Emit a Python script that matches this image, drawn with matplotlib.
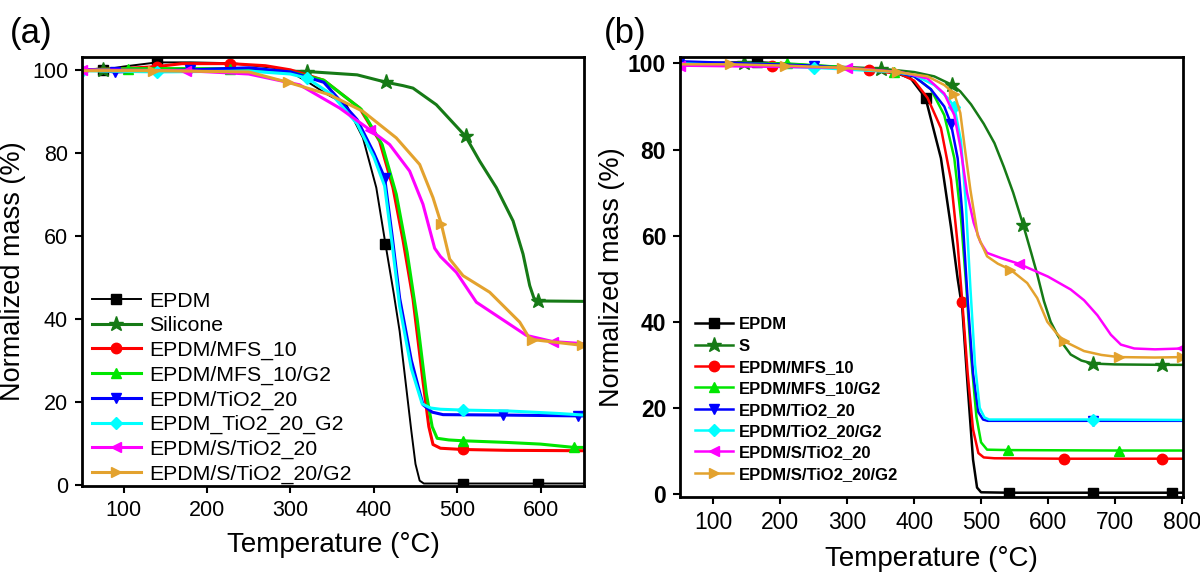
import numpy as np
import matplotlib.pyplot as plt

plt.rcParams["font.family"] = ["Liberation Sans", "DejaVu Sans"]

COLORS = ["black", "#167a16", "#ff0000", "#00e600", "#0000ff", "#00ffff", "#ff00ff", "#e3a22e"]
MARKERS = ["s", "*", "o", "^", "v", "D", "<", ">"]

# ---- panel (a) ----
labels_a = ["EPDM", "Silicone", "EPDM/MFS_10", "EPDM/MFS_10/G2", "EPDM/TiO2_20",
            "EPDM_TiO2_20_G2", "EPDM/S/TiO2_20", "EPDM/S/TiO2_20/G2"]

a_epdm_T = [50, 75, 100, 140, 180, 230, 280, 300, 323, 345, 367, 387, 403, 414, 424, 431, 438, 445, 450, 455, 460, 507, 597, 652]
a_epdm_m = [100, 100, 100.8, 101.8, 101.8, 101.6, 100.5, 99.5, 96.8, 94, 91.6, 83.6, 71.6, 58, 46, 37, 25, 13, 5, 1, 0.3, 0.3, 0.3, 0.3]
a_epdm_mk = [75, 140, 414, 507, 597]

a_sil_T = [50, 75, 105, 225, 320, 380, 415, 435, 447, 475, 510, 527, 547, 567, 579, 587, 592, 597, 652]
a_sil_m = [100, 100, 100.3, 100, 99.6, 98.8, 97, 96.2, 95.6, 91.6, 84, 78, 71.6, 63.6, 55.6, 48, 45, 44.3, 44.2]
a_sil_mk = [75, 320, 415, 510, 597]

a_mfs_T = [50, 100, 140, 170, 228, 270, 300, 340, 383, 407, 423, 435, 447, 459, 466, 471, 480, 507, 560, 652]
a_mfs_m = [100, 100.3, 100.8, 101.5, 101.5, 101, 100, 97.5, 90.8, 82.8, 71.6, 59, 44.8, 24.9, 14, 9.7, 8.8, 8.5, 8.3, 8.2]
a_mfs_mk = [140, 228, 507]

a_mfsg_T = [50, 105, 228, 300, 340, 385, 410, 427, 440, 452, 463, 470, 476, 490, 507, 560, 600, 640, 652]
a_mfsg_m = [100, 100.3, 100.3, 99.5, 97.5, 90.5, 82, 70, 56, 40, 22, 14, 11.2, 10.8, 10.6, 10.2, 9.8, 9, 9]
a_mfsg_mk = [105, 228, 507, 640]

a_ti_T = [50, 90, 180, 250, 300, 340, 380, 400, 413, 422, 431, 445, 459, 470, 483, 555, 645, 652]
a_ti_m = [100.2, 99.5, 100, 100.5, 99.5, 97, 88, 80, 74, 60, 45, 30, 19.3, 17.5, 16.9, 16.8, 16.6, 16.6]
a_ti_mk = [90, 180, 413, 555, 645]

a_tig_T = [50, 140, 250, 300, 320, 350, 380, 400, 413, 422, 431, 445, 458, 468, 480, 507, 560, 620, 652]
a_tig_m = [99.8, 99.5, 99.7, 99, 98, 94, 87, 79, 72, 58, 43, 28, 19.5, 18.5, 18.2, 18, 17.8, 17.2, 16.8]
a_tig_mk = [50, 140, 320, 507]

a_sti_T = [50, 175, 250, 311, 359, 395, 419, 443, 459, 473, 480, 499, 523, 547, 583, 615, 652]
a_sti_m = [100, 99.8, 99, 96.4, 90.8, 85.6, 82, 75.6, 67.6, 57, 55, 51.2, 44, 40.8, 36, 34.5, 34]
a_sti_mk = [50, 175, 395, 615]

a_stig_T = [50, 135, 250, 297, 347, 387, 427, 455, 471, 481, 491, 507, 539, 575, 587, 590, 620, 650]
a_stig_m = [99.8, 99.8, 99.5, 97, 94, 90, 83.6, 77.2, 69.2, 62.8, 54.4, 50.4, 46.4, 39.2, 35.2, 35, 34.3, 33.6]
a_stig_mk = [135, 297, 481, 590, 650]

# ---- panel (b) ----
labels_b = ["EPDM", "S", "EPDM/MFS_10", "EPDM/MFS_10/G2", "EPDM/TiO2_20",
            "EPDM/TiO2_20/G2", "EPDM/S/TiO2_20", "EPDM/S/TiO2_20/G2"]

b_epdm_T = [50, 165, 250, 300, 370, 395, 417, 440, 455, 465, 472, 480, 488, 494, 500, 542, 667, 785, 800]
b_epdm_m = [100, 100.3, 99.5, 99, 98, 96.5, 92, 78, 62, 50, 43, 25, 8, 1.5, 0.4, 0.3, 0.3, 0.3, 0.3]
b_epdm_mk = [165, 417, 542, 667, 785]

b_s_T = [50, 145, 250, 350, 400, 430, 457, 469, 485, 504, 520, 534, 548, 563, 575, 584, 594, 604, 614, 624, 634, 650, 667, 700, 770, 800]
b_s_m = [100, 100, 99.5, 98.8, 98, 97, 95, 93.5, 90.5, 86, 81.5, 76, 70, 62.5, 56, 51, 44.8, 40, 37, 34.5, 32.4, 31, 30.3, 30.1, 30, 30]
b_s_mk = [145, 350, 457, 563, 667, 770]

b_mfs_T = [50, 187, 260, 332, 380, 400, 420, 440, 455, 465, 472, 480, 488, 496, 504, 520, 624, 770, 800]
b_mfs_m = [100, 99.5, 99.3, 98.5, 97.5, 96, 92, 85, 73, 58, 44.5, 28, 15, 9.5, 8.5, 8.3, 8.2, 8.2, 8.2]
b_mfs_mk = [187, 332, 472, 624, 770]

b_mfsg_T = [50, 210, 290, 370, 400, 425, 445, 460, 470, 478, 485, 493, 500, 509, 541, 706, 800]
b_mfsg_m = [100, 100, 99.2, 98, 97, 94, 88, 78, 64, 48, 32, 18, 12, 10.3, 10.2, 10.1, 10.1]
b_mfsg_mk = [210, 370, 541, 706]

b_ti_T = [50, 250, 370, 400, 425, 445, 455, 465, 472, 480, 488, 496, 503, 510, 667, 800]
b_ti_m = [100.5, 99.5, 98, 97, 94, 90, 86, 78, 65, 45, 28, 19, 17.3, 17, 17, 17]
b_ti_mk = [50, 250, 455, 667]

b_tig_T = [50, 250, 370, 400, 430, 450, 460, 470, 477, 484, 491, 498, 505, 512, 667, 800]
b_tig_m = [100, 99, 98, 97.3, 95, 92, 90, 82, 68, 48, 30, 20, 17.8, 17.3, 17.3, 17.2]
b_tig_mk = [250, 460, 667]

b_sti_T = [50, 300, 380, 420, 445, 460, 469, 479, 489, 499, 509, 530, 556, 600, 634, 654, 674, 694, 709, 729, 760, 800]
b_sti_m = [99.5, 99, 98, 96.5, 93, 88, 80.7, 70, 63, 58.5, 56, 54.8, 53.5, 50.5, 47.5, 45, 41.5, 37, 34.7, 33.8, 33.6, 33.8]
b_sti_mk = [50, 300, 556, 800]

b_stig_T = [50, 125, 207, 292, 374, 420, 445, 460, 469, 476, 484, 495, 509, 525, 544, 569, 584, 599, 612, 624, 654, 680, 706, 760, 800]
b_stig_m = [99.8, 99.8, 99.5, 99, 98, 97, 95, 93, 88.5, 80, 70.7, 60, 55.2, 53.5, 52.1, 49, 45.5, 40, 37.5, 35.5, 33.2, 32.3, 31.8, 31.7, 31.8]
b_stig_mk = [125, 207, 292, 374, 460, 544, 624, 706, 800]

series_a = [(a_epdm_T, a_epdm_m, a_epdm_mk), (a_sil_T, a_sil_m, a_sil_mk),
            (a_mfs_T, a_mfs_m, a_mfs_mk), (a_mfsg_T, a_mfsg_m, a_mfsg_mk),
            (a_ti_T, a_ti_m, a_ti_mk), (a_tig_T, a_tig_m, a_tig_mk),
            (a_sti_T, a_sti_m, a_sti_mk), (a_stig_T, a_stig_m, a_stig_mk)]
series_b = [(b_epdm_T, b_epdm_m, b_epdm_mk), (b_s_T, b_s_m, b_s_mk),
            (b_mfs_T, b_mfs_m, b_mfs_mk), (b_mfsg_T, b_mfsg_m, b_mfsg_mk),
            (b_ti_T, b_ti_m, b_ti_mk), (b_tig_T, b_tig_m, b_tig_mk),
            (b_sti_T, b_sti_m, b_sti_mk), (b_stig_T, b_stig_m, b_stig_mk)]


def draw_panel(ax, series, labels, lw, epdm_lw, ms):
    for i, (T, m, mk) in enumerate(series):
        idx = [T.index(t) for t in mk]
        size = ms * 1.5 if MARKERS[i] == "*" else ms
        if MARKERS[i] == "D":
            size = ms * 0.8
        ax.plot(T, m, color=COLORS[i], lw=epdm_lw if i == 0 else lw,
                marker=MARKERS[i], markevery=idx, markersize=size,
                label=labels[i])
    for s in ax.spines.values():
        s.set_linewidth(2)
    ax.tick_params(direction="out", length=5, width=1.5, pad=5)


fig = plt.figure(figsize=(12, 5.74), dpi=100)

ax1 = fig.add_axes([0.0683, 0.1533, 0.4183, 0.7474])
draw_panel(ax1, series_a, labels_a, 2.2, 1.4, 7.5)
ax1.set_xlim(50, 652)
ax1.set_ylim(-0.3, 103.1)
ax1.set_xticks(range(100, 700, 100))
ax1.set_yticks(range(0, 120, 20))
ax1.tick_params(labelsize=15.5)
ax1.set_xlabel("Temperature (\u00b0C)", fontsize=20, labelpad=8)
ax1.set_ylabel("Normalized mass (%)", fontsize=19.5, labelpad=4)
ax1.legend(loc="lower left", bbox_to_anchor=(0.02, 0.005), frameon=False,
           fontsize=15.3, handlelength=2.3, handletextpad=0.4,
           labelspacing=0.26, borderpad=0, borderaxespad=0)

ax2 = fig.add_axes([0.5667, 0.1341, 0.4192, 0.7666])
draw_panel(ax2, series_b, labels_b, 1.8, 1.8, 7.5)
ax2.set_xlim(50, 802)
ax2.set_ylim(-0.7, 101.5)
ax2.set_xticks(range(100, 900, 100))
ax2.set_yticks(range(0, 120, 20))
ax2.tick_params(labelsize=16.5)
for t in ax2.get_yticklabels():
    t.set_fontweight("bold")
ax2.set_xlabel("Temperature (\u00b0C)", fontsize=20, labelpad=9)
ax2.set_ylabel("Normalized mass (%)", fontsize=19.5, labelpad=2)
ax2.legend(loc="lower left", bbox_to_anchor=(0.03, 0.035), frameon=False,
           prop={"weight": "bold", "size": 12}, handlelength=2.3,
           handletextpad=0.3, labelspacing=0.38, borderpad=0, borderaxespad=0)

fig.text(0.008, 0.925, "(a)", fontsize=25)
fig.text(0.503, 0.925, "(b)", fontsize=25)

fig.savefig("out.png", dpi=100)
